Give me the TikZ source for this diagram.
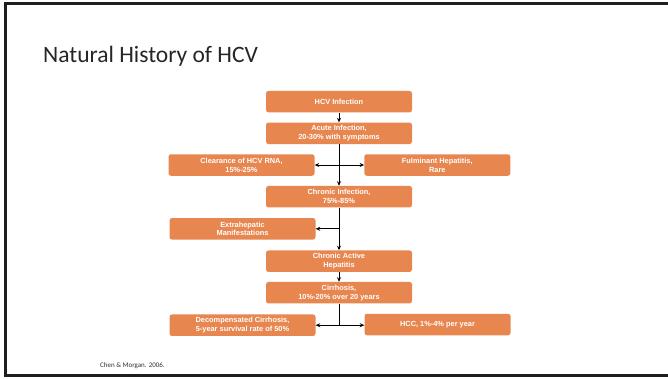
\documentclass[tikz,border=0pt]{standalone}
\usepackage{fontspec}
\setmainfont{Liberation Sans}
\newfontfamily\calfont{Carlito}
\usetikzlibrary{arrows.meta}
\definecolor{boxorange}{HTML}{E8864F}
\definecolor{framegray}{HTML}{1E1E1E}
\tikzset{
  flowbox/.style={draw=none, fill=boxorange, rounded corners=2.5pt, minimum width=146pt, minimum height=21.5pt, inner sep=0pt, align=center, text=white, font=\fontsize{7.4}{8.8}\selectfont\bfseries},
  conn/.style={draw=black, line width=0.9pt, -{Stealth[length=4.5pt,width=4pt]}},
  dconn/.style={draw=black, line width=0.9pt, {Stealth[length=4.5pt,width=4pt]}-{Stealth[length=4.5pt,width=4pt]}},
  plain/.style={draw=black, line width=0.9pt}
}
\begin{document}
\begin{tikzpicture}[x=1pt,y=-1pt]
\useasboundingbox (0,0) rectangle (668,378);
\fill[white] (0,0) rectangle (668,378);
% frame (left, top, bottom)
\draw[framegray, line width=2.6pt] (680,3.3) -- (5.3,3.3) -- (5.3,375.7) -- (680,375.7);
\node[anchor=base west, inner sep=0pt, font=\calfont\fontsize{23.5}{28}\selectfont, text=black!85] (title) at (43,62.5) {Natural History of HCV};
\node[anchor=west, inner sep=0pt, font=\calfont\fontsize{7}{8}\selectfont, text=black!80] (cite) at (100,365.7) {Chen \& Morgan. 2006.};

\node[flowbox] (hcv) at (339,101.7) {HCV Infection};
\node[flowbox] (acute) at (339,133.3) {Acute Infection,\\20-30\% with symptoms};
\node[flowbox] (clear) at (241.5,165) {Clearance of HCV RNA,\\15\%-25\%};
\node[flowbox] (fulm) at (437.3,165) {Fulminant Hepatitis,\\Rare};
\node[flowbox] (chronic) at (339,196.7) {Chronic Infection,\\75\%-85\%};
\node[flowbox] (extra) at (242.5,228.8) {Extrahepatic\\Manifestations};
\node[flowbox] (active) at (339,261.2) {Chronic Active\\Hepatitis};
\node[flowbox] (cirr) at (339,292.7) {Cirrhosis,\\10\%-20\% over 20 years};
\node[flowbox] (decomp) at (242.5,325.2) {Decompensated Cirrhosis,\\5-year survival rate of 50\%};
\node[flowbox] (hcc) at (437.5,324.5) {HCC, 1\%-4\% per year};

\coordinate (j1) at (acute.south |- clear.east);
\coordinate (j2) at (chronic.south |- extra.east);
\coordinate (j3) at (cirr.south |- decomp.east);

\draw[conn] (hcv) -- (acute);
\draw[conn] (acute) -- (chronic);
\draw[dconn] (clear.east) -- (fulm.west |- clear.east);
\draw[conn] (chronic) -- (active);
\draw[conn] (j2) -- (extra.east);
\draw[conn] (active) -- (cirr);
\draw[plain] (cirr.south) -- (j3);
\draw[dconn] (decomp.east) -- (hcc.west |- decomp.east);
\end{tikzpicture}
\end{document}
